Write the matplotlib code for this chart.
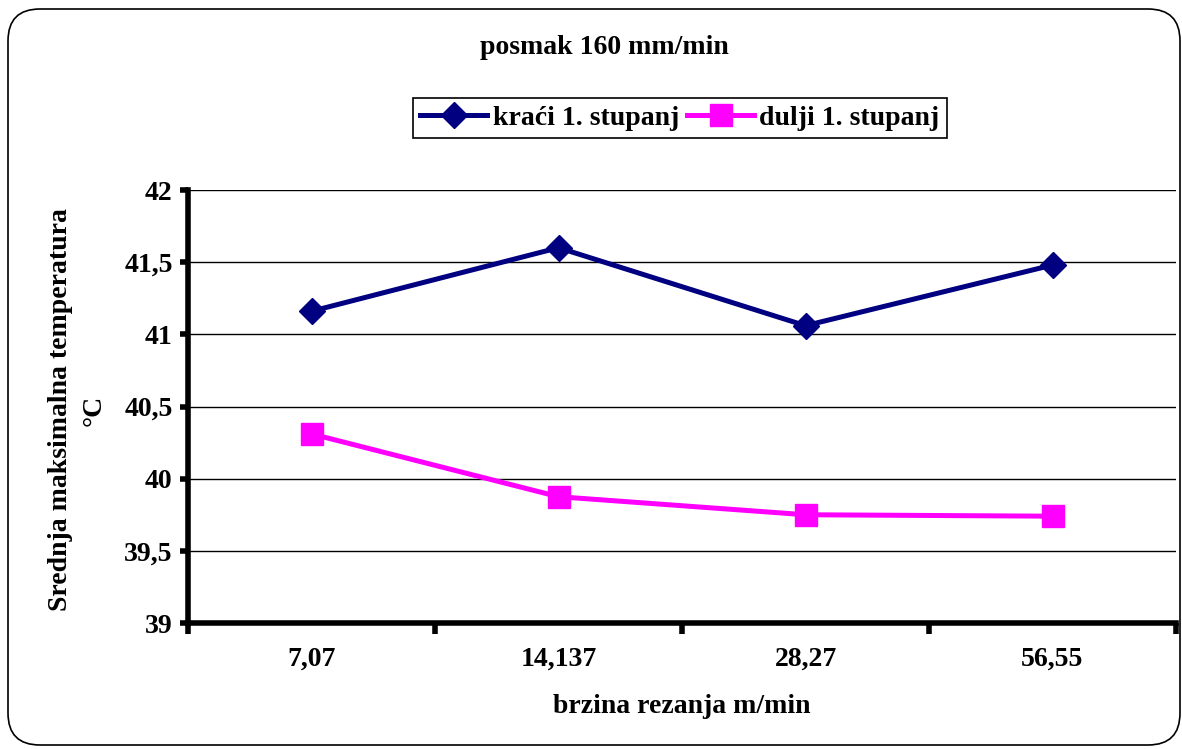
import matplotlib
matplotlib.use("Agg")
import matplotlib.pyplot as plt
from matplotlib.patches import FancyBboxPatch

plt.rcParams['font.family'] = ['Liberation Serif', 'DejaVu Serif']
plt.rcParams['font.weight'] = 'bold'

# data
brzina = ['7,07', '14,137', '28,27', '56,55']
kraci = [41.16, 41.60, 41.06, 41.48]
dulji = [40.31, 39.875, 39.75, 39.74]
y_ticks = [39, 39.5, 40, 40.5, 41, 41.5, 42]
y_labels = ['39', '39,5', '40', '40,5', '41', '41,5', '42']

W, H = 1182, 749
fig = plt.figure(figsize=(W / 100, H / 100), dpi=100)

# rounded outer frame
frame = FancyBboxPatch((8 / W, 4 / H), 1172 / W, 736 / H,
                       boxstyle="round,pad=0,rounding_size=0.027",
                       transform=fig.transFigure, fill=False,
                       edgecolor='black', linewidth=1.2,
                       mutation_aspect=W / H)
fig.patches.append(frame)

ax = fig.add_axes([188 / W, 1 - 623 / H, (1176 - 188) / W, (623 - 190) / H])

x = range(len(brzina))
ax.plot(x, kraci, color='#000080', linewidth=3.6, marker='D', markersize=13,
        label='kraći 1. stupanj')
ax.plot(x, dulji, color='#ff00ff', linewidth=3.6, marker='s', markersize=16,
        label='dulji 1. stupanj')

ax.set_xlim(-0.5, len(brzina) - 0.5)
ax.set_ylim(39, 42)
ax.set_yticks(y_ticks)
ax.set_yticklabels(y_labels)
ax.set_xticks(list(x))
ax.set_xticklabels(brzina)
ax.set_xticks([i - 0.5 for i in range(len(brzina) + 1)], minor=True)
ax.yaxis.grid(True, color='black', linewidth=1)
ax.set_axisbelow(True)

for s in ['top', 'right']:
    ax.spines[s].set_visible(False)
for s in ['left', 'bottom']:
    ax.spines[s].set_linewidth(4)

ax.tick_params(axis='y', direction='out', length=6, width=4, labelsize=20, pad=5)
ax.tick_params(axis='x', which='major', length=0, labelsize=20, pad=17)
ax.tick_params(axis='x', which='minor', direction='out', length=8, width=4)

ax.set_xlabel('brzina rezanja m/min', fontsize=20, fontweight='bold', labelpad=16)
fig.text(77 / W, 1 - 410 / H, 'Srednja maksimalna temperatura\n°C',
         rotation=90, ha='center', va='center', multialignment='center',
         fontsize=20, fontweight='bold', linespacing=1.45)

fig.text(604 / W, 1 - 47 / H, 'posmak 160 mm/min', ha='center', va='center',
         fontsize=20, fontweight='bold')

leg = fig.legend(loc='center', bbox_to_anchor=(680 / W, 1 - 118 / H), ncol=2,
                 fontsize=20, frameon=True, fancybox=False, edgecolor='black',
                 handlelength=2.4, handletextpad=0.2, columnspacing=0.3,
                 borderpad=0.25, borderaxespad=0)
leg.get_frame().set_linewidth(1.2)
leg.get_frame().set_alpha(1)

fig.savefig('out.png', dpi=100)
